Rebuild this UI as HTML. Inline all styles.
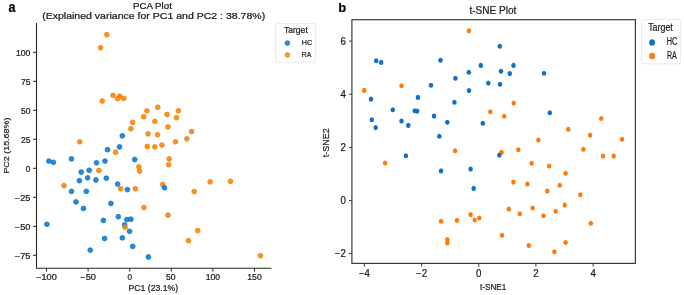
<!DOCTYPE html><html><head><meta charset="utf-8"><style>html,body{margin:0;padding:0;background:#fff;width:684px;height:295px;overflow:hidden}svg{display:block;will-change:transform}text{font-family:"Liberation Sans", sans-serif;fill:#1a1a1a;stroke:#1a1a1a;stroke-width:0.22px}</style></head><body>
<svg width="684" height="295" viewBox="0 0 684 295">
<rect width="684" height="295" fill="#fff"/>
<path d="M36.5 23 V268.3 H271.5" fill="none" stroke="#262626" stroke-width="1.1"/>
<path d="M33 52.30 H36.5" stroke="#262626" stroke-width="1"/>
<text x="30.40" y="55.80" font-size="8.20" textLength="14.40" lengthAdjust="spacingAndGlyphs" text-anchor="end">100</text>
<path d="M33 81.30 H36.5" stroke="#262626" stroke-width="1"/>
<text x="30.40" y="84.80" font-size="8.20" textLength="9.50" lengthAdjust="spacingAndGlyphs" text-anchor="end">75</text>
<path d="M33 110.30 H36.5" stroke="#262626" stroke-width="1"/>
<text x="30.40" y="113.80" font-size="8.20" textLength="9.50" lengthAdjust="spacingAndGlyphs" text-anchor="end">50</text>
<path d="M33 139.30 H36.5" stroke="#262626" stroke-width="1"/>
<text x="30.40" y="142.80" font-size="8.20" textLength="9.50" lengthAdjust="spacingAndGlyphs" text-anchor="end">25</text>
<path d="M33 168.30 H36.5" stroke="#262626" stroke-width="1"/>
<text x="30.40" y="171.80" font-size="8.20" text-anchor="end">0</text>
<path d="M33 197.30 H36.5" stroke="#262626" stroke-width="1"/>
<text x="30.40" y="200.80" font-size="8.20" textLength="15.60" lengthAdjust="spacingAndGlyphs" text-anchor="end">−25</text>
<path d="M33 226.30 H36.5" stroke="#262626" stroke-width="1"/>
<text x="30.40" y="229.80" font-size="8.20" textLength="15.60" lengthAdjust="spacingAndGlyphs" text-anchor="end">−50</text>
<path d="M33 255.30 H36.5" stroke="#262626" stroke-width="1"/>
<text x="30.40" y="258.80" font-size="8.20" textLength="15.60" lengthAdjust="spacingAndGlyphs" text-anchor="end">−75</text>
<path d="M46.50 268.3 V271.5" stroke="#262626" stroke-width="1"/>
<text x="46.50" y="280.40" font-size="8.20" textLength="20.60" lengthAdjust="spacingAndGlyphs" text-anchor="middle">−100</text>
<path d="M88.10 268.3 V271.5" stroke="#262626" stroke-width="1"/>
<text x="88.10" y="280.40" font-size="8.20" textLength="15.60" lengthAdjust="spacingAndGlyphs" text-anchor="middle">−50</text>
<path d="M129.70 268.3 V271.5" stroke="#262626" stroke-width="1"/>
<text x="129.70" y="280.40" font-size="8.20" text-anchor="middle">0</text>
<path d="M171.30 268.3 V271.5" stroke="#262626" stroke-width="1"/>
<text x="170.70" y="280.40" font-size="8.20" textLength="9.50" lengthAdjust="spacingAndGlyphs" text-anchor="middle">50</text>
<path d="M212.90 268.3 V271.5" stroke="#262626" stroke-width="1"/>
<text x="212.90" y="280.40" font-size="8.20" textLength="14.40" lengthAdjust="spacingAndGlyphs" text-anchor="middle">100</text>
<path d="M254.50 268.3 V271.5" stroke="#262626" stroke-width="1"/>
<text x="254.50" y="280.40" font-size="8.20" textLength="14.40" lengthAdjust="spacingAndGlyphs" text-anchor="middle">150</text>
<text x="128.60" y="291.30" font-size="8.20" textLength="49.50" lengthAdjust="spacingAndGlyphs">PC1 (23.1%)</text>
<text x="0.00" y="0.00" font-size="7.90" textLength="56.00" lengthAdjust="spacingAndGlyphs" transform="translate(9.0 173.6) rotate(-90)">PC2 (15.68%)</text>
<text x="132.90" y="8.80" font-size="8.60" textLength="39.00" lengthAdjust="spacingAndGlyphs">PCA Plot</text>
<text x="42.20" y="18.90" font-size="8.60" textLength="223.00" lengthAdjust="spacingAndGlyphs">(Explained variance for PC1 and PC2 : 38.78%)</text>
<text x="8.60" y="11.80" font-size="14.30" textLength="7.00" lengthAdjust="spacingAndGlyphs" font-weight="bold" style="fill:#000">a</text>
<text x="338.30" y="11.90" font-size="13.60" textLength="8.00" lengthAdjust="spacingAndGlyphs" font-weight="bold" style="fill:#000">b</text>
<circle cx="106.9" cy="34.7" r="2.40" fill="rgb(246,128,0)" fill-opacity="0.85" stroke="rgb(246,128,0)" stroke-opacity="0.85" stroke-width="0.90"/>
<circle cx="100.6" cy="47.8" r="2.40" fill="rgb(246,128,0)" fill-opacity="0.85" stroke="rgb(246,128,0)" stroke-opacity="0.85" stroke-width="0.90"/>
<circle cx="102.2" cy="101.0" r="2.40" fill="rgb(246,128,0)" fill-opacity="0.85" stroke="rgb(246,128,0)" stroke-opacity="0.85" stroke-width="0.90"/>
<circle cx="113.0" cy="95.3" r="2.40" fill="rgb(246,128,0)" fill-opacity="0.85" stroke="rgb(246,128,0)" stroke-opacity="0.85" stroke-width="0.90"/>
<circle cx="117.6" cy="98.6" r="2.40" fill="rgb(246,128,0)" fill-opacity="0.85" stroke="rgb(246,128,0)" stroke-opacity="0.85" stroke-width="0.90"/>
<circle cx="119.7" cy="96.2" r="2.40" fill="rgb(246,128,0)" fill-opacity="0.85" stroke="rgb(246,128,0)" stroke-opacity="0.85" stroke-width="0.90"/>
<circle cx="123.8" cy="98.4" r="2.40" fill="rgb(246,128,0)" fill-opacity="0.85" stroke="rgb(246,128,0)" stroke-opacity="0.85" stroke-width="0.90"/>
<circle cx="146.9" cy="110.8" r="2.40" fill="rgb(246,128,0)" fill-opacity="0.85" stroke="rgb(246,128,0)" stroke-opacity="0.85" stroke-width="0.90"/>
<circle cx="143.7" cy="116.7" r="2.40" fill="rgb(246,128,0)" fill-opacity="0.85" stroke="rgb(246,128,0)" stroke-opacity="0.85" stroke-width="0.90"/>
<circle cx="132.7" cy="122.4" r="2.40" fill="rgb(246,128,0)" fill-opacity="0.85" stroke="rgb(246,128,0)" stroke-opacity="0.85" stroke-width="0.90"/>
<circle cx="130.9" cy="128.7" r="2.40" fill="rgb(246,128,0)" fill-opacity="0.85" stroke="rgb(246,128,0)" stroke-opacity="0.85" stroke-width="0.90"/>
<circle cx="148.0" cy="133.8" r="2.40" fill="rgb(246,128,0)" fill-opacity="0.85" stroke="rgb(246,128,0)" stroke-opacity="0.85" stroke-width="0.90"/>
<circle cx="157.8" cy="107.3" r="2.40" fill="rgb(246,128,0)" fill-opacity="0.85" stroke="rgb(246,128,0)" stroke-opacity="0.85" stroke-width="0.90"/>
<circle cx="167.0" cy="114.5" r="2.40" fill="rgb(246,128,0)" fill-opacity="0.85" stroke="rgb(246,128,0)" stroke-opacity="0.85" stroke-width="0.90"/>
<circle cx="178.4" cy="110.8" r="2.40" fill="rgb(246,128,0)" fill-opacity="0.85" stroke="rgb(246,128,0)" stroke-opacity="0.85" stroke-width="0.90"/>
<circle cx="176.5" cy="117.7" r="2.40" fill="rgb(246,128,0)" fill-opacity="0.85" stroke="rgb(246,128,0)" stroke-opacity="0.85" stroke-width="0.90"/>
<circle cx="154.8" cy="121.4" r="2.40" fill="rgb(246,128,0)" fill-opacity="0.85" stroke="rgb(246,128,0)" stroke-opacity="0.85" stroke-width="0.90"/>
<circle cx="168.0" cy="126.9" r="2.40" fill="rgb(246,128,0)" fill-opacity="0.85" stroke="rgb(246,128,0)" stroke-opacity="0.85" stroke-width="0.90"/>
<circle cx="191.6" cy="131.6" r="2.40" fill="rgb(246,128,0)" fill-opacity="0.85" stroke="rgb(246,128,0)" stroke-opacity="0.85" stroke-width="0.90"/>
<circle cx="157.6" cy="134.8" r="2.40" fill="rgb(246,128,0)" fill-opacity="0.85" stroke="rgb(246,128,0)" stroke-opacity="0.85" stroke-width="0.90"/>
<circle cx="79.8" cy="141.8" r="2.40" fill="rgb(246,128,0)" fill-opacity="0.85" stroke="rgb(246,128,0)" stroke-opacity="0.85" stroke-width="0.90"/>
<circle cx="115.6" cy="152.2" r="2.40" fill="rgb(246,128,0)" fill-opacity="0.85" stroke="rgb(246,128,0)" stroke-opacity="0.85" stroke-width="0.90"/>
<circle cx="147.3" cy="146.5" r="2.40" fill="rgb(246,128,0)" fill-opacity="0.85" stroke="rgb(246,128,0)" stroke-opacity="0.85" stroke-width="0.90"/>
<circle cx="98.9" cy="170.5" r="2.40" fill="rgb(246,128,0)" fill-opacity="0.85" stroke="rgb(246,128,0)" stroke-opacity="0.85" stroke-width="0.90"/>
<circle cx="138.8" cy="166.8" r="2.40" fill="rgb(246,128,0)" fill-opacity="0.85" stroke="rgb(246,128,0)" stroke-opacity="0.85" stroke-width="0.90"/>
<circle cx="139.6" cy="171.1" r="2.40" fill="rgb(246,128,0)" fill-opacity="0.85" stroke="rgb(246,128,0)" stroke-opacity="0.85" stroke-width="0.90"/>
<circle cx="64.0" cy="185.7" r="2.40" fill="rgb(246,128,0)" fill-opacity="0.85" stroke="rgb(246,128,0)" stroke-opacity="0.85" stroke-width="0.90"/>
<circle cx="120.5" cy="188.8" r="2.40" fill="rgb(246,128,0)" fill-opacity="0.85" stroke="rgb(246,128,0)" stroke-opacity="0.85" stroke-width="0.90"/>
<circle cx="135.3" cy="188.8" r="2.40" fill="rgb(246,128,0)" fill-opacity="0.85" stroke="rgb(246,128,0)" stroke-opacity="0.85" stroke-width="0.90"/>
<circle cx="154.8" cy="146.9" r="2.40" fill="rgb(246,128,0)" fill-opacity="0.85" stroke="rgb(246,128,0)" stroke-opacity="0.85" stroke-width="0.90"/>
<circle cx="161.9" cy="145.1" r="2.40" fill="rgb(246,128,0)" fill-opacity="0.85" stroke="rgb(246,128,0)" stroke-opacity="0.85" stroke-width="0.90"/>
<circle cx="175.5" cy="141.8" r="2.40" fill="rgb(246,128,0)" fill-opacity="0.85" stroke="rgb(246,128,0)" stroke-opacity="0.85" stroke-width="0.90"/>
<circle cx="186.9" cy="138.8" r="2.40" fill="rgb(246,128,0)" fill-opacity="0.85" stroke="rgb(246,128,0)" stroke-opacity="0.85" stroke-width="0.90"/>
<circle cx="169.2" cy="158.9" r="2.40" fill="rgb(246,128,0)" fill-opacity="0.85" stroke="rgb(246,128,0)" stroke-opacity="0.85" stroke-width="0.90"/>
<circle cx="168.6" cy="164.8" r="2.40" fill="rgb(246,128,0)" fill-opacity="0.85" stroke="rgb(246,128,0)" stroke-opacity="0.85" stroke-width="0.90"/>
<circle cx="162.7" cy="184.5" r="2.40" fill="rgb(246,128,0)" fill-opacity="0.85" stroke="rgb(246,128,0)" stroke-opacity="0.85" stroke-width="0.90"/>
<circle cx="210.1" cy="181.9" r="2.40" fill="rgb(246,128,0)" fill-opacity="0.85" stroke="rgb(246,128,0)" stroke-opacity="0.85" stroke-width="0.90"/>
<circle cx="230.4" cy="181.3" r="2.40" fill="rgb(246,128,0)" fill-opacity="0.85" stroke="rgb(246,128,0)" stroke-opacity="0.85" stroke-width="0.90"/>
<circle cx="194.2" cy="191.6" r="2.40" fill="rgb(246,128,0)" fill-opacity="0.85" stroke="rgb(246,128,0)" stroke-opacity="0.85" stroke-width="0.90"/>
<circle cx="143.9" cy="207.6" r="2.40" fill="rgb(246,128,0)" fill-opacity="0.85" stroke="rgb(246,128,0)" stroke-opacity="0.85" stroke-width="0.90"/>
<circle cx="168.0" cy="215.1" r="2.40" fill="rgb(246,128,0)" fill-opacity="0.85" stroke="rgb(246,128,0)" stroke-opacity="0.85" stroke-width="0.90"/>
<circle cx="197.7" cy="230.6" r="2.40" fill="rgb(246,128,0)" fill-opacity="0.85" stroke="rgb(246,128,0)" stroke-opacity="0.85" stroke-width="0.90"/>
<circle cx="188.5" cy="240.7" r="2.40" fill="rgb(246,128,0)" fill-opacity="0.85" stroke="rgb(246,128,0)" stroke-opacity="0.85" stroke-width="0.90"/>
<circle cx="260.5" cy="255.8" r="2.40" fill="rgb(246,128,0)" fill-opacity="0.85" stroke="rgb(246,128,0)" stroke-opacity="0.85" stroke-width="0.90"/>
<circle cx="122.3" cy="135.8" r="2.40" fill="rgb(2,117,202)" fill-opacity="0.85" stroke="rgb(2,117,202)" stroke-opacity="0.85" stroke-width="0.90"/>
<circle cx="107.5" cy="149.7" r="2.40" fill="rgb(2,117,202)" fill-opacity="0.85" stroke="rgb(2,117,202)" stroke-opacity="0.85" stroke-width="0.90"/>
<circle cx="119.5" cy="146.9" r="2.40" fill="rgb(2,117,202)" fill-opacity="0.85" stroke="rgb(2,117,202)" stroke-opacity="0.85" stroke-width="0.90"/>
<circle cx="48.9" cy="161.1" r="2.40" fill="rgb(2,117,202)" fill-opacity="0.85" stroke="rgb(2,117,202)" stroke-opacity="0.85" stroke-width="0.90"/>
<circle cx="53.4" cy="162.3" r="2.40" fill="rgb(2,117,202)" fill-opacity="0.85" stroke="rgb(2,117,202)" stroke-opacity="0.85" stroke-width="0.90"/>
<circle cx="71.5" cy="158.9" r="2.40" fill="rgb(2,117,202)" fill-opacity="0.85" stroke="rgb(2,117,202)" stroke-opacity="0.85" stroke-width="0.90"/>
<circle cx="96.5" cy="162.8" r="2.40" fill="rgb(2,117,202)" fill-opacity="0.85" stroke="rgb(2,117,202)" stroke-opacity="0.85" stroke-width="0.90"/>
<circle cx="105.0" cy="161.1" r="2.40" fill="rgb(2,117,202)" fill-opacity="0.85" stroke="rgb(2,117,202)" stroke-opacity="0.85" stroke-width="0.90"/>
<circle cx="134.7" cy="159.5" r="2.40" fill="rgb(2,117,202)" fill-opacity="0.85" stroke="rgb(2,117,202)" stroke-opacity="0.85" stroke-width="0.90"/>
<circle cx="89.2" cy="170.3" r="2.40" fill="rgb(2,117,202)" fill-opacity="0.85" stroke="rgb(2,117,202)" stroke-opacity="0.85" stroke-width="0.90"/>
<circle cx="81.2" cy="172.1" r="2.40" fill="rgb(2,117,202)" fill-opacity="0.85" stroke="rgb(2,117,202)" stroke-opacity="0.85" stroke-width="0.90"/>
<circle cx="87.6" cy="177.8" r="2.40" fill="rgb(2,117,202)" fill-opacity="0.85" stroke="rgb(2,117,202)" stroke-opacity="0.85" stroke-width="0.90"/>
<circle cx="79.4" cy="180.7" r="2.40" fill="rgb(2,117,202)" fill-opacity="0.85" stroke="rgb(2,117,202)" stroke-opacity="0.85" stroke-width="0.90"/>
<circle cx="95.9" cy="180.0" r="2.40" fill="rgb(2,117,202)" fill-opacity="0.85" stroke="rgb(2,117,202)" stroke-opacity="0.85" stroke-width="0.90"/>
<circle cx="106.3" cy="178.2" r="2.40" fill="rgb(2,117,202)" fill-opacity="0.85" stroke="rgb(2,117,202)" stroke-opacity="0.85" stroke-width="0.90"/>
<circle cx="117.6" cy="184.1" r="2.40" fill="rgb(2,117,202)" fill-opacity="0.85" stroke="rgb(2,117,202)" stroke-opacity="0.85" stroke-width="0.90"/>
<circle cx="127.4" cy="189.6" r="2.40" fill="rgb(2,117,202)" fill-opacity="0.85" stroke="rgb(2,117,202)" stroke-opacity="0.85" stroke-width="0.90"/>
<circle cx="71.5" cy="191.4" r="2.40" fill="rgb(2,117,202)" fill-opacity="0.85" stroke="rgb(2,117,202)" stroke-opacity="0.85" stroke-width="0.90"/>
<circle cx="86.3" cy="191.4" r="2.40" fill="rgb(2,117,202)" fill-opacity="0.85" stroke="rgb(2,117,202)" stroke-opacity="0.85" stroke-width="0.90"/>
<circle cx="164.5" cy="187.8" r="2.40" fill="rgb(2,117,202)" fill-opacity="0.85" stroke="rgb(2,117,202)" stroke-opacity="0.85" stroke-width="0.90"/>
<circle cx="76.0" cy="201.9" r="2.40" fill="rgb(2,117,202)" fill-opacity="0.85" stroke="rgb(2,117,202)" stroke-opacity="0.85" stroke-width="0.90"/>
<circle cx="83.5" cy="208.4" r="2.40" fill="rgb(2,117,202)" fill-opacity="0.85" stroke="rgb(2,117,202)" stroke-opacity="0.85" stroke-width="0.90"/>
<circle cx="110.9" cy="203.5" r="2.40" fill="rgb(2,117,202)" fill-opacity="0.85" stroke="rgb(2,117,202)" stroke-opacity="0.85" stroke-width="0.90"/>
<circle cx="46.9" cy="224.3" r="2.40" fill="rgb(2,117,202)" fill-opacity="0.85" stroke="rgb(2,117,202)" stroke-opacity="0.85" stroke-width="0.90"/>
<circle cx="103.4" cy="220.4" r="2.40" fill="rgb(2,117,202)" fill-opacity="0.85" stroke="rgb(2,117,202)" stroke-opacity="0.85" stroke-width="0.90"/>
<circle cx="118.3" cy="216.7" r="2.40" fill="rgb(2,117,202)" fill-opacity="0.85" stroke="rgb(2,117,202)" stroke-opacity="0.85" stroke-width="0.90"/>
<circle cx="126.8" cy="219.6" r="2.40" fill="rgb(2,117,202)" fill-opacity="0.85" stroke="rgb(2,117,202)" stroke-opacity="0.85" stroke-width="0.90"/>
<circle cx="130.9" cy="219.2" r="2.40" fill="rgb(2,117,202)" fill-opacity="0.85" stroke="rgb(2,117,202)" stroke-opacity="0.85" stroke-width="0.90"/>
<circle cx="124.6" cy="224.9" r="2.40" fill="rgb(2,117,202)" fill-opacity="0.85" stroke="rgb(2,117,202)" stroke-opacity="0.85" stroke-width="0.90"/>
<circle cx="129.6" cy="231.3" r="2.40" fill="rgb(2,117,202)" fill-opacity="0.85" stroke="rgb(2,117,202)" stroke-opacity="0.85" stroke-width="0.90"/>
<circle cx="104.6" cy="238.5" r="2.40" fill="rgb(2,117,202)" fill-opacity="0.85" stroke="rgb(2,117,202)" stroke-opacity="0.85" stroke-width="0.90"/>
<circle cx="122.3" cy="237.9" r="2.40" fill="rgb(2,117,202)" fill-opacity="0.85" stroke="rgb(2,117,202)" stroke-opacity="0.85" stroke-width="0.90"/>
<circle cx="132.7" cy="246.4" r="2.40" fill="rgb(2,117,202)" fill-opacity="0.85" stroke="rgb(2,117,202)" stroke-opacity="0.85" stroke-width="0.90"/>
<circle cx="90.2" cy="250.1" r="2.40" fill="rgb(2,117,202)" fill-opacity="0.85" stroke="rgb(2,117,202)" stroke-opacity="0.85" stroke-width="0.90"/>
<circle cx="148.4" cy="257.0" r="2.40" fill="rgb(2,117,202)" fill-opacity="0.85" stroke="rgb(2,117,202)" stroke-opacity="0.85" stroke-width="0.90"/>
<circle cx="125.1" cy="227.2" r="2.40" fill="rgb(246,128,0)" fill-opacity="0.85" stroke="rgb(246,128,0)" stroke-opacity="0.85" stroke-width="0.90"/>
<rect x="275.6" y="23.6" width="40" height="38.5" rx="1.6" ry="1.6" fill="#fff" fill-opacity="0.8" stroke="#e3e3e3" stroke-width="0.8"/>
<text x="283.90" y="33.10" font-size="8.70" textLength="23.90" lengthAdjust="spacingAndGlyphs">Target</text>
<circle cx="287.4" cy="43.1" r="2.4" fill="rgb(2,117,202)" fill-opacity="0.8" stroke="rgb(2,117,202)" stroke-opacity="0.8" stroke-width="0.9"/>
<circle cx="287.4" cy="55.0" r="2.4" fill="rgb(246,128,0)" fill-opacity="0.8" stroke="rgb(246,128,0)" stroke-opacity="0.8" stroke-width="0.9"/>
<text x="301.80" y="44.90" font-size="7.60" textLength="10.40" lengthAdjust="spacingAndGlyphs">HC</text>
<text x="301.80" y="57.00" font-size="7.60" textLength="9.60" lengthAdjust="spacingAndGlyphs">RA</text>
<rect x="351.9" y="19.7" width="283.5" height="243.7" fill="none" stroke="#3a3a3a" stroke-width="1.2"/>
<path d="M349 41.10 H351.9" stroke="#3a3a3a" stroke-width="1"/>
<text x="345.80" y="44.80" font-size="10.00" textLength="5.40" lengthAdjust="spacingAndGlyphs" text-anchor="end">6</text>
<path d="M349 94.20 H351.9" stroke="#3a3a3a" stroke-width="1"/>
<text x="345.80" y="97.90" font-size="10.00" textLength="5.40" lengthAdjust="spacingAndGlyphs" text-anchor="end">4</text>
<path d="M349 147.40 H351.9" stroke="#3a3a3a" stroke-width="1"/>
<text x="345.80" y="151.10" font-size="10.00" textLength="5.40" lengthAdjust="spacingAndGlyphs" text-anchor="end">2</text>
<path d="M349 200.50 H351.9" stroke="#3a3a3a" stroke-width="1"/>
<text x="345.80" y="204.20" font-size="10.00" textLength="5.40" lengthAdjust="spacingAndGlyphs" text-anchor="end">0</text>
<path d="M349 253.60 H351.9" stroke="#3a3a3a" stroke-width="1"/>
<text x="345.80" y="257.30" font-size="10.00" textLength="11.00" lengthAdjust="spacingAndGlyphs" text-anchor="end">−2</text>
<path d="M364.40 263.4 V266.6" stroke="#3a3a3a" stroke-width="1"/>
<text x="364.40" y="277.10" font-size="10.00" textLength="11.00" lengthAdjust="spacingAndGlyphs" text-anchor="middle">−4</text>
<path d="M421.60 263.4 V266.6" stroke="#3a3a3a" stroke-width="1"/>
<text x="421.60" y="277.10" font-size="10.00" textLength="11.00" lengthAdjust="spacingAndGlyphs" text-anchor="middle">−2</text>
<path d="M478.75 263.4 V266.6" stroke="#3a3a3a" stroke-width="1"/>
<text x="478.75" y="277.10" font-size="10.00" textLength="5.40" lengthAdjust="spacingAndGlyphs" text-anchor="middle">0</text>
<path d="M535.90 263.4 V266.6" stroke="#3a3a3a" stroke-width="1"/>
<text x="535.90" y="277.10" font-size="10.00" textLength="5.40" lengthAdjust="spacingAndGlyphs" text-anchor="middle">2</text>
<path d="M593.10 263.4 V266.6" stroke="#3a3a3a" stroke-width="1"/>
<text x="593.10" y="277.10" font-size="10.00" textLength="5.40" lengthAdjust="spacingAndGlyphs" text-anchor="middle">4</text>
<text x="480.00" y="289.90" font-size="9.80" textLength="26.30" lengthAdjust="spacingAndGlyphs">t-SNE1</text>
<text x="0.00" y="0.00" font-size="9.80" textLength="29.00" lengthAdjust="spacingAndGlyphs" transform="translate(329.2 157.3) rotate(-90)">t-SNE2</text>
<text x="469.40" y="14.20" font-size="10.20" textLength="47.00" lengthAdjust="spacingAndGlyphs">t-SNE Plot</text>
<ellipse cx="376.2" cy="60.7" rx="2.25" ry="2.55" fill="rgb(16,112,196)"/>
<ellipse cx="381.2" cy="62.4" rx="2.25" ry="2.55" fill="rgb(16,112,196)"/>
<ellipse cx="440.5" cy="60.2" rx="2.25" ry="2.55" fill="rgb(16,112,196)"/>
<ellipse cx="499.8" cy="46.3" rx="2.25" ry="2.55" fill="rgb(16,112,196)"/>
<ellipse cx="480.8" cy="65.4" rx="2.25" ry="2.55" fill="rgb(16,112,196)"/>
<ellipse cx="513.5" cy="65.4" rx="2.25" ry="2.55" fill="rgb(16,112,196)"/>
<ellipse cx="371.0" cy="99.1" rx="2.25" ry="2.55" fill="rgb(16,112,196)"/>
<ellipse cx="417.9" cy="97.4" rx="2.25" ry="2.55" fill="rgb(16,112,196)"/>
<ellipse cx="392.8" cy="109.7" rx="2.25" ry="2.55" fill="rgb(16,112,196)"/>
<ellipse cx="414.7" cy="110.8" rx="2.25" ry="2.55" fill="rgb(16,112,196)"/>
<ellipse cx="417.1" cy="111.1" rx="2.25" ry="2.55" fill="rgb(16,112,196)"/>
<ellipse cx="431.0" cy="85.2" rx="2.25" ry="2.55" fill="rgb(16,112,196)"/>
<ellipse cx="468.8" cy="72.3" rx="2.25" ry="2.55" fill="rgb(16,112,196)"/>
<ellipse cx="501.0" cy="71.3" rx="2.25" ry="2.55" fill="rgb(16,112,196)"/>
<ellipse cx="509.8" cy="73.6" rx="2.25" ry="2.55" fill="rgb(16,112,196)"/>
<ellipse cx="544.0" cy="73.3" rx="2.25" ry="2.55" fill="rgb(16,112,196)"/>
<ellipse cx="455.4" cy="78.2" rx="2.25" ry="2.55" fill="rgb(16,112,196)"/>
<ellipse cx="488.3" cy="83.1" rx="2.25" ry="2.55" fill="rgb(16,112,196)"/>
<ellipse cx="500.0" cy="84.3" rx="2.25" ry="2.55" fill="rgb(16,112,196)"/>
<ellipse cx="469.0" cy="90.6" rx="2.25" ry="2.55" fill="rgb(16,112,196)"/>
<ellipse cx="454.4" cy="102.3" rx="2.25" ry="2.55" fill="rgb(16,112,196)"/>
<ellipse cx="549.8" cy="112.7" rx="2.25" ry="2.55" fill="rgb(16,112,196)"/>
<ellipse cx="371.8" cy="119.7" rx="2.25" ry="2.55" fill="rgb(16,112,196)"/>
<ellipse cx="375.7" cy="127.6" rx="2.25" ry="2.55" fill="rgb(16,112,196)"/>
<ellipse cx="401.5" cy="121.0" rx="2.25" ry="2.55" fill="rgb(16,112,196)"/>
<ellipse cx="408.3" cy="125.4" rx="2.25" ry="2.55" fill="rgb(16,112,196)"/>
<ellipse cx="434.0" cy="116.1" rx="2.25" ry="2.55" fill="rgb(16,112,196)"/>
<ellipse cx="447.3" cy="122.2" rx="2.25" ry="2.55" fill="rgb(16,112,196)"/>
<ellipse cx="439.3" cy="136.3" rx="2.25" ry="2.55" fill="rgb(16,112,196)"/>
<ellipse cx="405.9" cy="155.8" rx="2.25" ry="2.55" fill="rgb(16,112,196)"/>
<ellipse cx="482.8" cy="123.2" rx="2.25" ry="2.55" fill="rgb(16,112,196)"/>
<ellipse cx="441.0" cy="170.9" rx="2.25" ry="2.55" fill="rgb(16,112,196)"/>
<ellipse cx="470.6" cy="169.1" rx="2.25" ry="2.55" fill="rgb(16,112,196)"/>
<ellipse cx="473.7" cy="188.4" rx="2.25" ry="2.55" fill="rgb(16,112,196)"/>
<ellipse cx="468.9" cy="30.7" rx="2.25" ry="2.55" fill="rgb(255,122,10)"/>
<ellipse cx="364.2" cy="90.4" rx="2.25" ry="2.55" fill="rgb(255,122,10)"/>
<ellipse cx="401.5" cy="85.8" rx="2.25" ry="2.55" fill="rgb(255,122,10)"/>
<ellipse cx="513.7" cy="103.0" rx="2.25" ry="2.55" fill="rgb(255,122,10)"/>
<ellipse cx="490.3" cy="111.8" rx="2.25" ry="2.55" fill="rgb(255,122,10)"/>
<ellipse cx="504.2" cy="116.3" rx="2.25" ry="2.55" fill="rgb(255,122,10)"/>
<ellipse cx="538.4" cy="140.0" rx="2.25" ry="2.55" fill="rgb(255,122,10)"/>
<ellipse cx="455.1" cy="150.8" rx="2.25" ry="2.55" fill="rgb(255,122,10)"/>
<ellipse cx="518.3" cy="149.7" rx="2.25" ry="2.55" fill="rgb(255,122,10)"/>
<ellipse cx="501.5" cy="152.4" rx="2.25" ry="2.55" fill="rgb(255,122,10)"/>
<ellipse cx="601.2" cy="118.5" rx="2.25" ry="2.55" fill="rgb(255,122,10)"/>
<ellipse cx="568.3" cy="129.2" rx="2.25" ry="2.55" fill="rgb(255,122,10)"/>
<ellipse cx="590.1" cy="135.1" rx="2.25" ry="2.55" fill="rgb(255,122,10)"/>
<ellipse cx="622.0" cy="139.3" rx="2.25" ry="2.55" fill="rgb(255,122,10)"/>
<ellipse cx="583.4" cy="149.3" rx="2.25" ry="2.55" fill="rgb(255,122,10)"/>
<ellipse cx="603.0" cy="156.1" rx="2.25" ry="2.55" fill="rgb(255,122,10)"/>
<ellipse cx="613.7" cy="156.1" rx="2.25" ry="2.55" fill="rgb(255,122,10)"/>
<ellipse cx="385.1" cy="163.0" rx="2.25" ry="2.55" fill="rgb(255,122,10)"/>
<ellipse cx="531.7" cy="163.3" rx="2.25" ry="2.55" fill="rgb(255,122,10)"/>
<ellipse cx="549.1" cy="166.0" rx="2.25" ry="2.55" fill="rgb(255,122,10)"/>
<ellipse cx="513.4" cy="182.1" rx="2.25" ry="2.55" fill="rgb(255,122,10)"/>
<ellipse cx="527.4" cy="184.0" rx="2.25" ry="2.55" fill="rgb(255,122,10)"/>
<ellipse cx="547.3" cy="191.1" rx="2.25" ry="2.55" fill="rgb(255,122,10)"/>
<ellipse cx="565.6" cy="173.3" rx="2.25" ry="2.55" fill="rgb(255,122,10)"/>
<ellipse cx="559.8" cy="185.2" rx="2.25" ry="2.55" fill="rgb(255,122,10)"/>
<ellipse cx="580.3" cy="194.8" rx="2.25" ry="2.55" fill="rgb(255,122,10)"/>
<ellipse cx="441.0" cy="221.2" rx="2.25" ry="2.55" fill="rgb(255,122,10)"/>
<ellipse cx="447.4" cy="239.5" rx="2.25" ry="2.55" fill="rgb(255,122,10)"/>
<ellipse cx="447.3" cy="242.9" rx="2.25" ry="2.55" fill="rgb(255,122,10)"/>
<ellipse cx="456.9" cy="220.3" rx="2.25" ry="2.55" fill="rgb(255,122,10)"/>
<ellipse cx="470.6" cy="214.6" rx="2.25" ry="2.55" fill="rgb(255,122,10)"/>
<ellipse cx="474.7" cy="220.0" rx="2.25" ry="2.55" fill="rgb(255,122,10)"/>
<ellipse cx="479.3" cy="218.0" rx="2.25" ry="2.55" fill="rgb(255,122,10)"/>
<ellipse cx="508.8" cy="209.0" rx="2.25" ry="2.55" fill="rgb(255,122,10)"/>
<ellipse cx="519.8" cy="213.7" rx="2.25" ry="2.55" fill="rgb(255,122,10)"/>
<ellipse cx="532.7" cy="208.0" rx="2.25" ry="2.55" fill="rgb(255,122,10)"/>
<ellipse cx="543.4" cy="215.8" rx="2.25" ry="2.55" fill="rgb(255,122,10)"/>
<ellipse cx="502.0" cy="235.3" rx="2.25" ry="2.55" fill="rgb(255,122,10)"/>
<ellipse cx="528.8" cy="245.5" rx="2.25" ry="2.55" fill="rgb(255,122,10)"/>
<ellipse cx="564.7" cy="205.1" rx="2.25" ry="2.55" fill="rgb(255,122,10)"/>
<ellipse cx="555.7" cy="211.2" rx="2.25" ry="2.55" fill="rgb(255,122,10)"/>
<ellipse cx="590.8" cy="223.2" rx="2.25" ry="2.55" fill="rgb(255,122,10)"/>
<ellipse cx="565.6" cy="242.5" rx="2.25" ry="2.55" fill="rgb(255,122,10)"/>
<ellipse cx="554.4" cy="251.8" rx="2.25" ry="2.55" fill="rgb(255,122,10)"/>
<ellipse cx="499.3" cy="155.1" rx="2.25" ry="2.55" fill="rgb(16,112,196)"/>
<rect x="641.4" y="19.6" width="39.2" height="44.2" rx="2" ry="2" fill="#fff" stroke="#e3e3e3" stroke-width="0.8"/>
<text x="648.20" y="30.50" font-size="10.00" textLength="24.60" lengthAdjust="spacingAndGlyphs">Target</text>
<ellipse cx="652.1" cy="42.4" rx="2.9" ry="3.2" fill="rgb(16,112,196)"/>
<ellipse cx="652.1" cy="56.0" rx="2.9" ry="3.2" fill="rgb(255,122,10)"/>
<text x="666.80" y="45.00" font-size="10.00" textLength="10.50" lengthAdjust="spacingAndGlyphs">HC</text>
<text x="667.00" y="58.60" font-size="10.00" textLength="9.80" lengthAdjust="spacingAndGlyphs">RA</text>
</svg></body></html>
